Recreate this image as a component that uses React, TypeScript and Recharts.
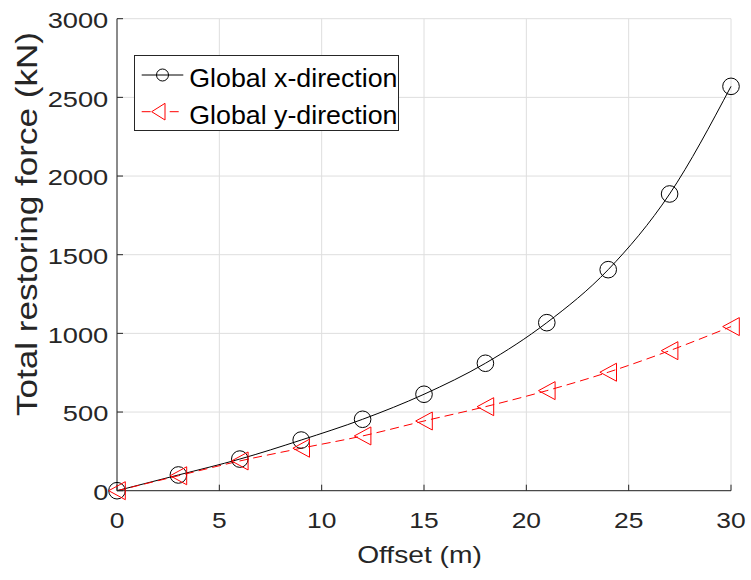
import React from 'react';
import { LineChart, Line, XAxis, YAxis, CartesianGrid, Legend } from 'recharts';

// Offset (m) and total restoring force (kN) in both global directions
const offsetM = [0, 3, 6, 9, 12, 15, 18, 21, 24, 27, 30];
const forceGlobalX = [0, 100, 201, 322, 454, 613, 810, 1068, 1405, 1886, 2570];
const forceGlobalY = [0, 95, 189, 270, 348, 443, 534, 636, 753, 890, 1043];
const offsetTicks = [0, 5, 10, 15, 20, 25, 30];
const forceTicks = [0, 500, 1000, 1500, 2000, 2500, 3000];
const seriesNames = ['Global x-direction', 'Global y-direction'];
const xLabel = 'Offset (m)';
const yLabel = 'Total restoring force (kN)';

const rows = offsetM.map((m, i) => ({ offset: m, gx: forceGlobalX[i], gy: forceGlobalY[i] }));

const FONT = '"Liberation Sans", Arial, Helvetica, sans-serif';
const AXIS = '#262626';
const GRID = '#dedede';
const RED = '#ff0000';

const CircleDot = (p: any) => {
  if (p.cx == null || p.cy == null) return <g key={`c-${p.index}`} />;
  return <circle key={`c-${p.index}`} cx={p.cx} cy={p.cy} r={8.3} fill="none" stroke="#000" strokeWidth={1} />;
};

const TriangleDot = (p: any) => {
  if (p.cx == null || p.cy == null) return <g key={`t-${p.index}`} />;
  const { cx, cy } = p;
  return (
    <polygon
      key={`t-${p.index}`}
      points={`${cx - 8.3},${cy} ${cx + 8.3},${cy - 9} ${cx + 8.3},${cy + 9}`}
      fill="none"
      stroke={RED}
      strokeWidth={1}
    />
  );
};

const XTick = (p: any) => (
  <g transform={`translate(${p.x},${p.y + 37.7}) scale(1.2,1)`}>
    <text x={0} y={0} textAnchor="middle" fontFamily={FONT} fontSize={22} fill={AXIS}>
      {p.payload.value}
    </text>
  </g>
);

const YTick = (p: any) => (
  <g transform={`translate(${p.x - 8.7},${p.y + 9.4}) scale(1.24,1)`}>
    <text x={0} y={0} textAnchor="end" fontFamily={FONT} fontSize={22} fill={AXIS}>
      {p.payload.value}
    </text>
  </g>
);

const XTitle = (p: any) => {
  const vb = p.viewBox || { x: 117, y: 490.7, width: 614 };
  const cx = vb.x + vb.width / 2 - 4.5;
  return (
    <g transform={`translate(${cx},563) scale(1.2,1)`}>
      <text x={0} y={0} textAnchor="middle" fontFamily={FONT} fontSize={23.5} fill={AXIS}>
        {xLabel}
      </text>
    </g>
  );
};

const YTitle = () => (
  <g transform="translate(36.5,224) rotate(-90) scale(1.21,1)">
    <text x={0} y={0} textAnchor="middle" fontFamily={FONT} fontSize={29} fill={AXIS}>
      {yLabel}
    </text>
  </g>
);

const LegendBox = () => (
  <svg width={265} height={76} style={{ display: 'block' }}>
    <rect x={0.5} y={0.5} width={264} height={75} fill="#fff" stroke={AXIS} strokeWidth={1} />
    <line x1={7.7} x2={49.3} y1={20} y2={20} stroke="#000" strokeWidth={1} />
    <circle cx={28.5} cy={20} r={6} fill="none" stroke="#000" strokeWidth={1} />
    <g transform="translate(55.3,32) scale(1.05,1)">
      <text x={0} y={0} fontFamily={FONT} fontSize={25.5} fill="#000">
        {seriesNames[0]}
      </text>
    </g>
    <line x1={7.7} x2={49.3} y1={56.7} y2={56.7} stroke={RED} strokeWidth={1} strokeDasharray="9 5" />
    <polygon points="17.7,56.7 31,48.3 31,65" fill="#fff" stroke={RED} strokeWidth={1} />
    <g transform="translate(55.3,68.6) scale(1.05,1)">
      <text x={0} y={0} fontFamily={FONT} fontSize={25.5} fill="#000">
        {seriesNames[1]}
      </text>
    </g>
  </svg>
);

export default function App() {
  return (
    <div style={{ position: 'absolute', left: 0, top: 0, width: 751, height: 580, background: '#fff' }}>
      <LineChart
        width={751}
        height={580}
        data={rows}
        margin={{ top: 18.7, right: 20, bottom: 0, left: 0 }}
        style={{ fontFamily: FONT }}
      >
        <CartesianGrid xAxisId="b" yAxisId="l" stroke={GRID} strokeWidth={1} />
        <XAxis
          xAxisId="b"
          dataKey="offset"
          type="number"
          domain={[0, 30]}
          ticks={offsetTicks}
          interval={0}
          height={89.3}
          tickSize={-6}
          tickMargin={6}
          axisLine={{ stroke: AXIS, strokeWidth: 1 }}
          tickLine={{ stroke: AXIS, strokeWidth: 1 }}
          tick={<XTick />}
          label={<XTitle />}
        />
        <XAxis
          xAxisId="t"
          orientation="top"
          type="number"
          domain={[0, 30]}
          ticks={offsetTicks}
          interval={0}
          height={0}
          tickSize={-6}
          axisLine={{ stroke: AXIS, strokeWidth: 1 }}
          tickLine={{ stroke: AXIS, strokeWidth: 1 }}
          tick={false}
        />
        <YAxis
          yAxisId="l"
          type="number"
          domain={[0, 3000]}
          ticks={forceTicks}
          interval={0}
          width={117}
          tickSize={-6}
          tickMargin={6}
          axisLine={{ stroke: AXIS, strokeWidth: 1 }}
          tickLine={{ stroke: AXIS, strokeWidth: 1 }}
          tick={<YTick />}
          label={<YTitle />}
        />
        <YAxis
          yAxisId="r"
          orientation="right"
          type="number"
          domain={[0, 3000]}
          ticks={forceTicks}
          interval={0}
          width={0}
          tickSize={-6}
          axisLine={{ stroke: AXIS, strokeWidth: 1 }}
          tickLine={{ stroke: AXIS, strokeWidth: 1 }}
          tick={false}
        />
        <Line
          xAxisId="b"
          yAxisId="l"
          type="monotone"
          dataKey="gx"
          name={seriesNames[0]}
          stroke="#000"
          strokeWidth={1}
          dot={CircleDot}
          activeDot={false}
          isAnimationActive={false}
        />
        <Line
          xAxisId="b"
          yAxisId="l"
          type="monotone"
          dataKey="gy"
          name={seriesNames[1]}
          stroke={RED}
          strokeWidth={1}
          strokeDasharray="9 5"
          dot={TriangleDot}
          activeDot={false}
          isAnimationActive={false}
        />
        <Legend
          layout="vertical"
          align="center"
          verticalAlign="middle"
          content={<LegendBox />}
          wrapperStyle={{ position: 'absolute', left: 134, top: 55, width: 265, height: 76 }}
        />
      </LineChart>
    </div>
  );
}
